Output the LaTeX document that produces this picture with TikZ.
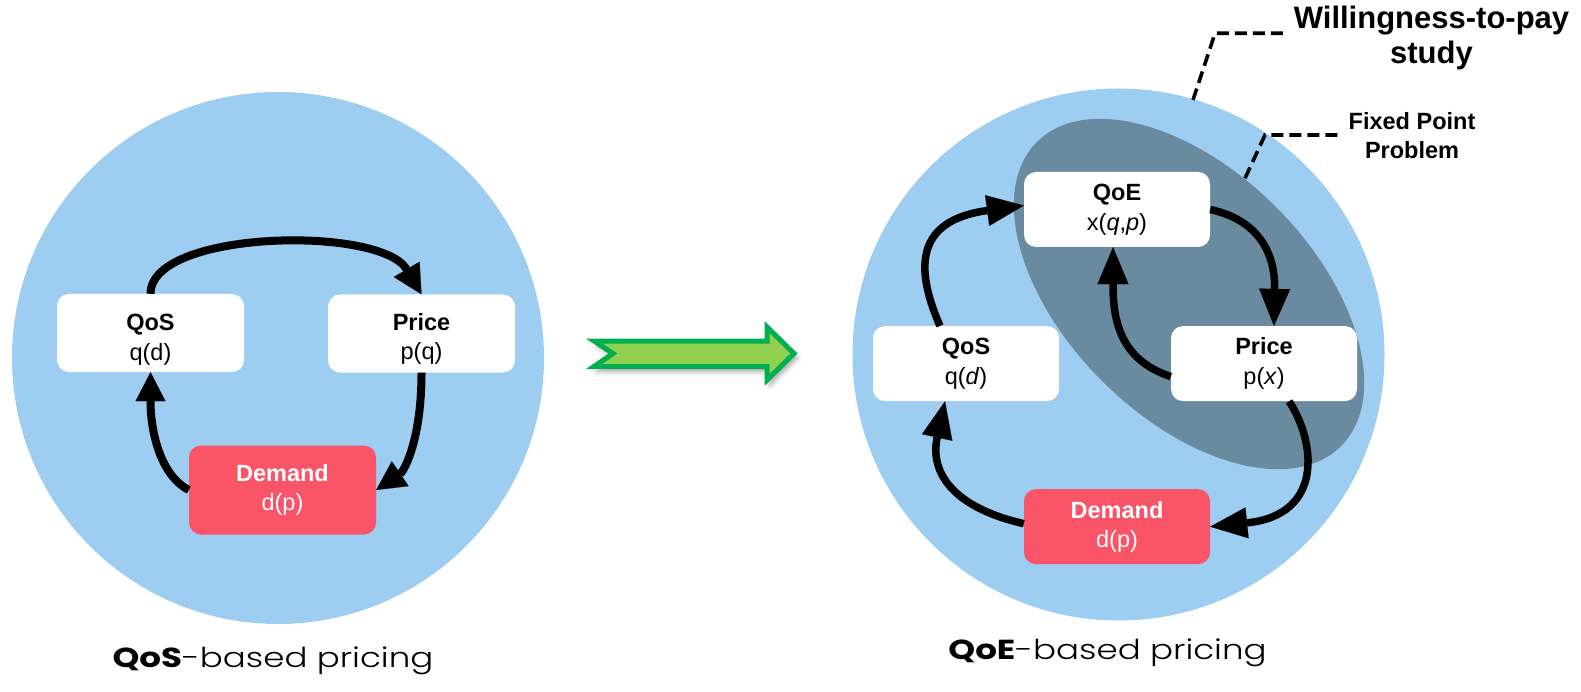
\documentclass[tikz,border=0pt]{standalone}
\usepackage{fontspec}
\setmainfont{Liberation Sans}
\newfontfamily\capfont{Poppins}[UprightFont={* Light}, BoldFont={* Bold}]
\usetikzlibrary{arrows.meta,shadows.blur}

\definecolor{bubble}{HTML}{9DCDF0}
\definecolor{slate}{HTML}{6A8A9F}
\definecolor{demandred}{HTML}{FA5468}
\definecolor{arrowfill}{HTML}{92D050}
\definecolor{arrowline}{HTML}{00B050}

\begin{document}
\begin{tikzpicture}[x=1pt,y=-1pt,
  box/.style={rectangle, rounded corners=12pt, fill=white, inner sep=0pt,
    minimum width=187pt, minimum height=78pt, align=center,
    font=\fontsize{23.5}{29.5}\selectfont},
  rbox/.style={box, minimum width=186pt, minimum height=75pt},
  redbox/.style={fill=demandred, text=white},
  flowL/.style={draw=black, line width=8pt,
    -{Triangle[length=29pt,width=30pt,line width=0.1pt,color=black,fill=black]}},
  flowR/.style={draw=black, line width=7.5pt,
    -{Triangle[length=37pt,width=31pt,line width=0.1pt,color=black,fill=black]}},
  callout/.style={line width=3.6pt, dash pattern=on 12pt off 6pt},
  calltext/.style={inner sep=0pt, align=center, font=\bfseries},
  caption/.style={anchor=base, inner sep=0pt}
]
\useasboundingbox (0,0) rectangle (1581,692);

% ---------- left: QoS-based pricing ----------
\fill[bubble] (278,358) circle[radius=266pt];

\node[box] (lqos)   at (150.5,333) {\rule{0pt}{30pt}\textbf{QoS}\\q(d)};
\node[box] (lprice) at (421.5,333.5) {\rule{0pt}{28pt}\textbf{Price}\\p(q)};
\node[box, redbox, minimum height=89pt] (ldem) at (282.5,490) {\textbf{Demand}\\d(p)};

\draw[flowL] (lqos.north) .. controls +(0,-64) and +(-41,-69) .. (lprice.north);
\draw[flowL] (lprice.south) .. controls +(0,67) and +(28,-19) .. (ldem.east);
\draw[flowL] (ldem.west) .. controls +(-29,-15) and +(0,58) .. (lqos.south);

\node[caption] (capL) at (273,667)
  {\scalebox{1.24}[1]{\capfont\fontsize{27.5}{30}\selectfont\textbf{QoS}-based pricing}};

% ---------- right: QoE-based pricing ----------
\fill[bubble] (1118.5,354.5) circle[radius=266pt];
\fill[slate] (1189,294) ellipse[x radius=215pt, y radius=123pt, rotate=-45];

\node[rbox] (rqoe)   at (1117,209.5) {\textbf{QoE}\\x(\textit{q},\textit{p})};
\node[rbox] (rqos)   at (966,363.6)  {\textbf{QoS}\\q(\textit{d})};
\node[rbox] (rprice) at (1264,363.6) {\textbf{Price}\\p(\textit{x})};
\node[rbox, redbox] (rdem) at (1117,526.7) {\textbf{Demand}\\d(p)};

\draw[flowR] ([xshift=-26pt]rqos.north) .. controls +(-25,-57) and +(-109,15) .. ([yshift=4pt]rqoe.west);
\draw[flowR] (rqoe.east) .. controls +(60,13) and +(1,-57) .. ([xshift=10pt]rprice.north);
\draw[flowR] ([yshift=-13pt]rprice.west) .. controls +(-51,-17) and +(0,73) .. ([xshift=-4pt]rqoe.south);
\draw[flowR] ([xshift=25pt]rprice.south) .. controls +(26,39) and +(115,-12) .. (rdem.east);
\draw[flowR] ([yshift=3pt]rdem.west) .. controls +(-74,-17) and +(-15,69) .. ([xshift=-21pt]rqos.south);

\node[caption] (capR) at (1107.5,659)
  {\scalebox{1.24}[1]{\capfont\fontsize{27.5}{30}\selectfont\textbf{QoE}-based pricing}};

% ---------- annotations ----------
\node[calltext, font=\bfseries\fontsize{31}{35}\selectfont] (wtp) at (1431.5,37.8)
  {Willingness-to-pay\\study};
\node[calltext, font=\bfseries\fontsize{23.5}{29.3}\selectfont] (fpp) at (1412,135.3)
  {Fixed Point\\Problem};

\coordinate (wtpfoot) at (1193,100);
\coordinate (wtpknee) at (1215,33.3);
\coordinate (wtpend)  at (1287,33.3);
\draw[callout] (wtpfoot) -- (wtpknee) -- (wtpend);

\coordinate (fppfoot) at (1245,178.3);
\coordinate (fppknee) at (1265,135);
\coordinate (fppend)  at (1340,135);
\draw[callout] (fppfoot) -- (fppknee) -- (fppend);

% ---------- transition arrow with its soft drop shadow ----------
\draw[line width=5pt, draw=arrowline, fill=arrowfill, line join=miter,
      blur shadow={shadow xshift=3pt, shadow yshift=-5pt, shadow blur radius=5pt, shadow opacity=35}]
  (594,341) -- (767,341) -- (767,327) -- (794,353.5) -- (767,380) -- (767,366.5)
  -- (594,366.5) -- (613,353.5) -- cycle;
\end{tikzpicture}
\end{document}
